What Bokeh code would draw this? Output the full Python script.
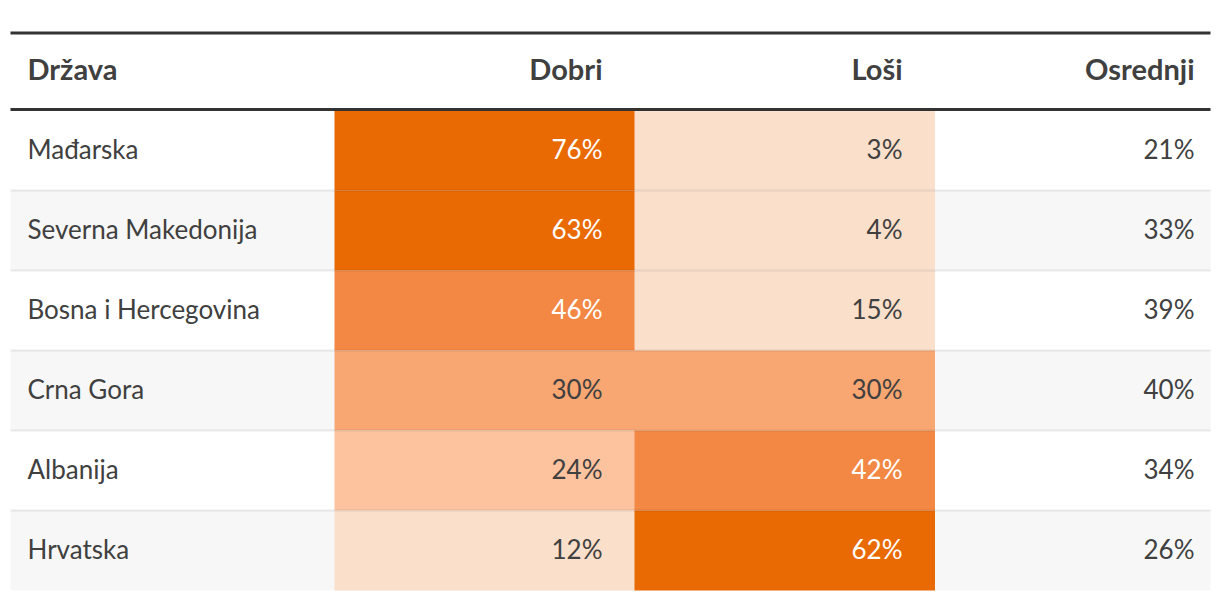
from bokeh.plotting import figure
from bokeh.models import Range1d, ColumnDataSource
from bokeh.core.properties import value
from bokeh.embed import file_html
from bokeh.resources import INLINE

# ---- data ----
columns = ["Država", "Dobri", "Loši", "Osrednji"]
countries = ["Mađarska", "Severna Makedonija", "Bosna i Hercegovina", "Crna Gora", "Albanija", "Hrvatska"]
dobri = [76, 63, 46, 30, 24, 12]
losi = [3, 4, 15, 30, 42, 62]
osrednji = [21, 33, 39, 40, 34, 26]

# ---- style ----
FONT = "Lato"
palette = ["#FADFCB", "#FCC39E", "#F8A672", "#F38844", "#E96903"]
thresholds = [20, 27, 35, 55]

def shade(v):
    i = 0
    for t in thresholds:
        if v >= t:
            i += 1
    return palette[i]

def txtcol(v):
    return "#ffffff" if v >= 35 else "#404040"

W, H = 1212, 592
left, right = 10, 1210
top_line = 32.5
head_line = 109
row_top0 = 110
row_h = 80
col_edges = [10, 334, 634, 934, 1210]
text_dy = -2

p = figure(width=W, height=H, x_range=Range1d(0, W), y_range=Range1d(H, 0),
           output_backend="svg", toolbar_location=None, min_border=0,
           outline_line_color=None, background_fill_color="white")
p.axis.visible = False
p.grid.visible = False

n = len(countries)
idx = list(range(n))
tops = [row_top0 + i * row_h for i in idx]
bots = [t + row_h for t in tops]
mids = [t + row_h / 2 + text_dy for t in tops]

# zebra background
zb = [i for i in idx if i % 2 == 1]
p.quad(left=[left] * len(zb), right=[right] * len(zb),
       top=[tops[i] for i in zb], bottom=[bots[i] for i in zb],
       fill_color="#f7f7f7", line_color=None)

# colored cells
for ci, vals in ((1, dobri), (2, losi)):
    src = ColumnDataSource(dict(
        l=[col_edges[ci]] * n, r=[col_edges[ci + 1] + 0.5] * n,
        t=tops, b=bots, c=[shade(v) for v in vals]))
    p.quad(left="l", right="r", top="t", bottom="b", fill_color="c",
           line_color=None, source=src)

# row separators
for i in idx[1:]:
    p.segment(x0=[left], x1=[right], y0=[tops[i]], y1=[tops[i]],
              line_color="#000000", line_alpha=0.08, line_width=2)

# header lines
p.segment(x0=[left], x1=[right], y0=[top_line], y1=[top_line], line_color="#333333", line_width=3)
p.segment(x0=[left], x1=[right], y0=[head_line], y1=[head_line], line_color="#333333", line_width=3)

# header text
head_y = 70 + text_dy
hpads = [32, 32, 16]
p.text(x=[left + 17], y=[head_y], text=[columns[0]], text_font=value(FONT),
       text_font_size="29px", text_font_style="bold", text_color="#404040",
       text_align="left", text_baseline="middle")
p.text(x=[col_edges[i + 1] - hpads[i - 1] for i in (1, 2, 3)], y=[head_y] * 3,
       text=columns[1:], text_font=value(FONT), text_font_size="29px",
       text_font_style="bold", text_color="#404040",
       text_align="right", text_baseline="middle")

# body text
p.text(x=[left + 17] * n, y=mids, text=countries, text_font=value(FONT),
       text_font_size="26px", text_color="#404040", text_align="left",
       text_baseline="middle")
for ci, vals in ((1, dobri), (2, losi), (3, osrednji)):
    p.text(x=[col_edges[ci + 1] - (32 if ci < 3 else 16)] * n, y=mids,
           text=[f"{v}%" for v in vals], text_font=value(FONT),
           text_font_size="26px",
           text_color=[txtcol(v) if ci < 3 else "#404040" for v in vals],
           text_align="right", text_baseline="middle")

open("out.html", "w").write(file_html(p, INLINE))
